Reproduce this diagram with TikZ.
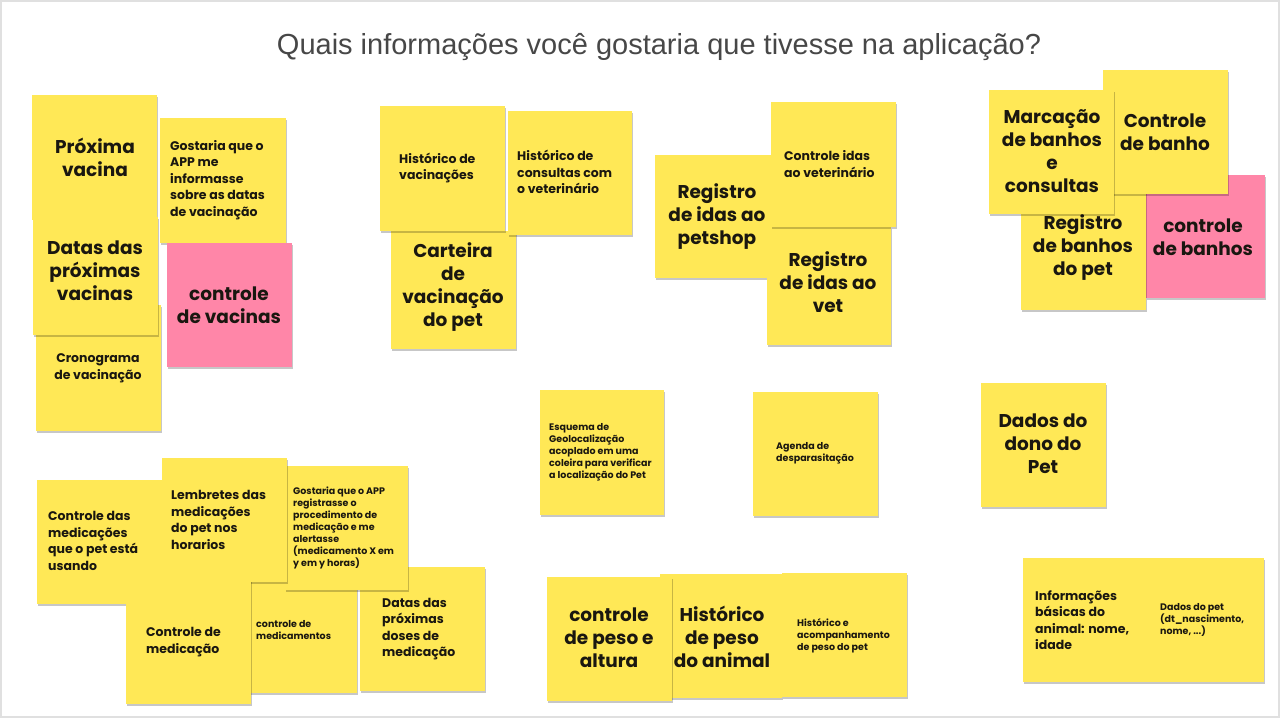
\documentclass[tikz,border=0pt]{standalone}
\usepackage{fontspec}
\setmainfont{Poppins}
\newfontfamily\titlefont{Liberation Sans}
\usetikzlibrary{shadows}
\definecolor{notey}{HTML}{FFE856}
\definecolor{notep}{HTML}{FF86A8}
\definecolor{txt}{HTML}{1A1710}
\definecolor{ttl}{HTML}{474747}
\tikzset{
  shadowed/.style={drop shadow={shadow xshift=1pt, shadow yshift=-2pt, opacity=0.22, fill=black}},
  big/.style={font=\fontsize{18.5}{23}\selectfont\bfseries, align=center, inner sep=0pt, text=txt},
  med/.style={font=\fontsize{12.5}{16.5}\selectfont\bfseries, align=left, anchor=west, inner sep=0pt, text=txt},
  medc/.style={font=\fontsize{12.5}{16.5}\selectfont\bfseries, align=center, inner sep=0pt, text=txt},
  sml/.style={font=\fontsize{9.5}{12}\selectfont\bfseries, align=left, anchor=west, inner sep=0pt, text=txt},
}
\newcommand{\pnote}[3][notey]{\fill[#1, shadowed] #2 rectangle #3;}
\begin{document}
\begin{tikzpicture}[x=1pt,y=-1pt]
\useasboundingbox (0,0) rectangle (1280,721);
\fill[white] (0,0) rectangle (1280,721);
\draw[black!12, line width=1.5pt] (1,1) rectangle (1279,717);

\node[font=\titlefont\fontsize{29}{34}\selectfont, text=ttl, inner sep=0pt] (title) at (659,47) {Quais informações você gostaria que tivesse na aplicação?};

% group 1
\pnote{(32,95)}{(157,220)}
\node[big] (t1) at (95,157) {Próxima\\vacina};
\pnote{(36,305)}{(161,431)}
\node[medc] (t2) at (98,368) {Cronograma\\de vacinação};
\pnote{(33,217)}{(158,335)}
\node[big] (t3) at (95,271) {Datas das\\próximas\\vacinas};
\pnote{(160,118)}{(286,243)}
\node[med] (t4) at (170,180) {Gostaria que o\\APP me\\informasse\\sobre as datas\\de vacinação};
\pnote[notep]{(167,243)}{(292,367)}
\node[big] (t5) at (229,305) {controle\\de vacinas};

% group 2
\pnote{(391,231)}{(516,349)}
\node[big] (t6) at (453,287) {Carteira\\de\\vacinação\\do pet};
\pnote{(380,106)}{(505,231)}
\node[med] (t7) at (399,168) {Histórico de\\vacinações};
\pnote{(508,111)}{(632,235)}
\node[med] (t8) at (517,172) {Histórico de\\consultas com\\o veterinário};
\pnote{(655,155)}{(780,278)}
\node[big] (t9) at (717,217) {Registro\\de idas ao\\petshop};
\pnote{(767,227)}{(891,345)}
\node[big] (t10) at (828,282) {Registro\\de idas ao\\vet};
\pnote{(771,102)}{(896,227)}
\node[med] (t11) at (784,164) {Controle idas\\ao veterinário};

% group 3
\pnote[notep]{(1146,175)}{(1265,298)}
\node[big] (t12) at (1203,237) {controle\\de banhos};
\pnote{(1021,185)}{(1146,310)}
\node[big] (t13) at (1083,248) {Registro\\de banhos\\do pet};
\pnote{(1103,70)}{(1228,194)}
\node[big] (t14) at (1165,132) {Controle\\de banho};
\pnote{(989,90)}{(1114,214)}
\node[big] (t15) at (1052,151) {Marcação\\de banhos\\e\\consultas};

% middle
\pnote{(540,390)}{(664,515)}
\node[sml] (t16) at (549,452) {Esquema de\\Geolocalização\\acoplado em uma\\coleira para verificar\\a localização do Pet};
\pnote{(753,392)}{(878,516)}
\node[sml] (t17) at (776,453) {Agenda de\\desparasitação};
\pnote{(981,383)}{(1106,507)}
\node[big] (t18) at (1043,444) {Dados do\\dono do\\Pet};

% bottom left
\pnote{(360,567)}{(485,691)}
\node[med] (t19) at (382,629) {Datas das\\próximas\\doses de\\medicação};
\pnote{(232,570)}{(357,693)}
\node[sml] (t20) at (256,630) {controle de\\medicamentos};
\pnote{(285,466)}{(408,590)}
\node[sml] (t21) at (293,528) {Gostaria que o APP\\registrasse o\\procedimento de\\medicação e me\\alertasse\\(medicamento X em\\y em y horas)};
\pnote{(37,480)}{(163,604)}
\node[med] (t22) at (48,541) {Controle das\\medicações\\que o pet está\\usando};
\pnote{(162,458)}{(287,582)}
\node[med] (t23) at (171,520) {Lembretes das\\medicações\\do pet nos\\horarios};
\pnote{(126,580)}{(251,704)}
\node[med] (t24) at (146,642) {Controle de\\medicação};

% bottom middle
\pnote{(660,574)}{(782,698)}
\node[big] (t25) at (722,637) {Histórico\\de peso\\do animal};
\pnote{(782,573)}{(907,697)}
\node[sml] (t26) at (797,636) {Histórico e\\acompanhamento\\de peso do pet};
\pnote{(547,577)}{(672,701)}
\node[big] (t27) at (609,638) {controle\\de peso e\\altura};

% bottom right
\pnote{(1023,558)}{(1148,682)}
\node[med] (t28) at (1035,620) {Informações\\básicas do\\animal: nome,\\idade};
\pnote{(1148,558)}{(1264,682)}
\node[sml] (t29) at (1160,620) {Dados do pet\\(dt\_nascimento,\\nome, ...)};
\end{tikzpicture}
\end{document}
